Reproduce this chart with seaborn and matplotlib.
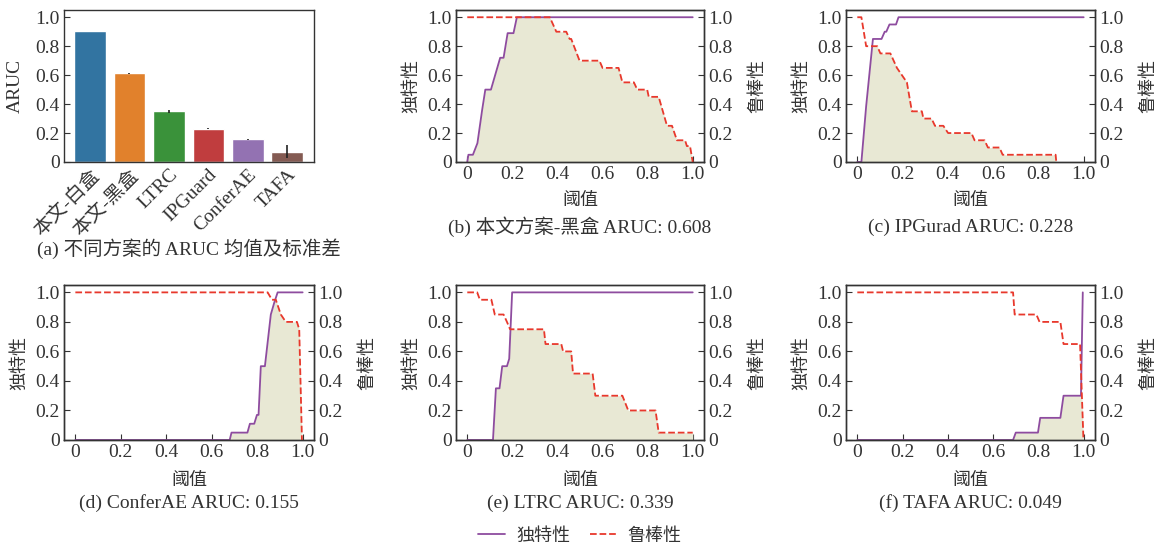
import numpy as np
import matplotlib
matplotlib.use("Agg")
import matplotlib.pyplot as plt
from matplotlib.lines import Line2D
from matplotlib.ticker import FuncFormatter
import seaborn as sns

# ---- (a) ARUC mean / std per scheme
SCHEMES   = ["本文-白盒", "本文-黑盒", "LTRC", "IPGuard", "ConferAE", "TAFA"]
ARUC_MEAN = [0.905, 0.613, 0.350, 0.229, 0.157, 0.070]
ARUC_STD  = [0.003, 0.003, 0.010, 0.003, 0.003, 0.045]

# ---- (b) 本文方案-黑盒
B_UX = [0, 0.005, 0.025, 0.045, 0.066, 0.08, 0.105, 0.146, 0.161, 0.179, 0.205, 0.22, 1.0]
B_U  = [0, 0.05, 0.05, 0.13, 0.36, 0.50, 0.50, 0.72, 0.72, 0.89, 0.89, 1.0, 1.0]
B_RX = [0, 0.366, 0.395, 0.439, 0.454, 0.461, 0.498, 0.586, 0.600, 0.671, 0.688, 0.739,
        0.754, 0.798, 0.805, 0.849, 0.886, 0.908, 0.930, 0.966, 0.974, 0.988, 1.0]
B_R  = [1.0, 1.0, 0.90, 0.90, 0.85, 0.85, 0.70, 0.70, 0.65, 0.65, 0.55, 0.55,
        0.50, 0.50, 0.45, 0.45, 0.25, 0.25, 0.15, 0.15, 0.11, 0.11, 0]

# ---- (c) IPGurad
C_UX = [0, 0.018, 0.039, 0.069, 0.107, 0.121, 0.128, 0.142, 0.171, 0.182, 1.0]
C_U  = [0, 0, 0.385, 0.85, 0.85, 0.90, 0.90, 0.95, 0.95, 1.0, 1.0]
C_RX = [0, 0.018, 0.039, 0.088, 0.102, 0.146, 0.175, 0.197, 0.219, 0.241, 0.285, 0.292,
        0.328, 0.343, 0.380, 0.401, 0.504, 0.518, 0.562, 0.577, 0.628, 0.642, 0.876, 0.879]
C_R  = [1.0, 1.0, 0.80, 0.80, 0.75, 0.75, 0.65, 0.60, 0.55, 0.35, 0.35, 0.30,
        0.30, 0.25, 0.25, 0.20, 0.20, 0.15, 0.15, 0.10, 0.10, 0.05, 0.05, 0]

# ---- (d) ConferAE
D_UX = [0, 0.679, 0.687, 0.757, 0.768, 0.787, 0.799, 0.806, 0.816, 0.834, 0.86, 0.875, 0.89, 1.0]
D_U  = [0, 0, 0.05, 0.05, 0.11, 0.11, 0.17, 0.17, 0.50, 0.50, 0.85, 0.93, 1.0, 1.0]
D_RX = [0, 0.846, 0.865, 0.882, 0.904, 0.926, 0.975, 0.985, 0.997]
D_R  = [1.0, 1.0, 0.95, 0.95, 0.85, 0.80, 0.80, 0.75, 0]

# ---- (e) LTRC
E_UX = [0, 0.114, 0.127, 0.143, 0.155, 0.176, 0.186, 0.199, 1.0]
E_U  = [0, 0, 0.35, 0.35, 0.50, 0.50, 0.55, 1.0, 1.0]
E_RX = [0, 0.044, 0.056, 0.107, 0.122, 0.161, 0.176, 0.19, 0.34, 0.347, 0.417, 0.425,
        0.461, 0.469, 0.556, 0.568, 0.688, 0.714, 0.835, 0.849, 1.0]
E_R  = [1.0, 1.0, 0.95, 0.95, 0.85, 0.85, 0.80, 0.75, 0.75, 0.65, 0.65, 0.60,
        0.60, 0.45, 0.45, 0.30, 0.30, 0.20, 0.20, 0.05, 0.05]

# ---- (f) TAFA
F_UX = [0, 0.688, 0.70, 0.798, 0.808, 0.897, 0.911, 0.988, 0.996]
F_U  = [0, 0, 0.05, 0.05, 0.15, 0.15, 0.30, 0.30, 1.0]
F_RX = [0, 0.688, 0.695, 0.791, 0.805, 0.897, 0.911, 0.984, 0.999]
F_R  = [1.0, 1.0, 0.85, 0.85, 0.80, 0.80, 0.65, 0.65, 0]

PURPLE = "#8e4c9f"
RED    = "#e8382c"
FILL   = "#e8e8d4"
TXT    = "#333333"

sns.set_style("ticks")
plt.rcParams["font.family"] = ["Liberation Serif", "Noto Sans CJK SC"]
plt.rcParams.update({
    "font.size": 14,
    "text.color": TXT, "axes.labelcolor": TXT,
    "xtick.color": TXT, "ytick.color": TXT,
    "axes.edgecolor": TXT, "axes.linewidth": 1.0,
    "xtick.major.pad": 3, "ytick.major.pad": 3,
})

W, H = 1158, 549
fig = plt.figure(figsize=(W / 100, H / 100), dpi=100)


def box(l, t, r, b):
    return [l / W, 1 - b / H, (r - l) / W, (b - t) / H]


fmt = FuncFormatter(lambda v, _: "0" if abs(v) < 1e-9 else f"{v:.1f}")
TICKS = [0, 0.2, 0.4, 0.6, 0.8, 1.0]
LAB = 13

# ---- panel (a)
ax = fig.add_axes(box(64, 10, 314, 162))
sns.barplot(x=SCHEMES, y=ARUC_MEAN, hue=SCHEMES, palette="tab10",
            saturation=0.75, legend=False, ax=ax, width=0.8)
ax.errorbar(range(len(SCHEMES)), ARUC_MEAN, yerr=ARUC_STD, fmt="none",
            ecolor="#222222", elinewidth=1.2)
ax.set_xlim(-0.66, 5.68)
ax.set_ylim(0, 1.05)
ax.set_yticks(TICKS)
ax.yaxis.set_major_formatter(fmt)
ax.set_ylabel("ARUC", fontsize=14)
ax.yaxis.set_label_coords(-40 / 250, 0.5)
ax.tick_params(direction="in", length=4)
ax.set_xticks(range(len(SCHEMES)))
ax.set_xticklabels(SCHEMES, rotation=45, ha="right", rotation_mode="anchor")
fig.text(189 / W, 1 - 249 / H, "(a) 不同方案的 ARUC 均值及标准差", ha="center", va="center")

# ---- panels (b)-(f)
panels = [
    ("(b) 本文方案-黑盒 ARUC: 0.608", B_UX, B_U, B_RX, B_R, (456, 10, 704, 162), 200, 227),
    ("(c) IPGurad ARUC: 0.228", C_UX, C_U, C_RX, C_R, (846, 10, 1095, 162), 200, 227),
    ("(d) ConferAE ARUC: 0.155", D_UX, D_U, D_RX, D_R, (64, 285, 314, 440), 480, 503),
    ("(e) LTRC ARUC: 0.339", E_UX, E_U, E_RX, E_R, (456, 285, 704, 440), 480, 503),
    ("(f) TAFA ARUC: 0.049", F_UX, F_U, F_RX, F_R, (846, 285, 1095, 440), 480, 503),
]

grid = np.linspace(0, 1, 2001)
for title, ux, u, rx, r, pos, xl_y, cap_y in panels:
    ax = fig.add_axes(box(*pos))
    shade = np.minimum(np.interp(grid, ux, u), np.interp(grid, rx, r))
    ax.fill_between(grid, 0, shade, color=FILL, lw=0)
    sns.lineplot(x=ux, y=u, color=PURPLE, lw=1.3, estimator=None, sort=False, ax=ax)
    ax2 = ax.twinx()
    sns.lineplot(x=rx, y=r, color=RED, lw=1.3, ls="--", estimator=None, sort=False, ax=ax2)
    for a in (ax, ax2):
        a.set_xlim(-0.05, 1.05)
        a.set_ylim(0, 1.05)
        a.set_yticks(TICKS)
        a.yaxis.set_major_formatter(fmt)
        a.tick_params(direction="in", length=4)
    ax.set_xticks(TICKS)
    ax.xaxis.set_major_formatter(fmt)
    w = pos[2] - pos[0]
    ax.set_ylabel("独特性", fontsize=LAB)
    ax.yaxis.set_label_coords(-36 / w, 0.5)
    ax2.set_ylabel("鲁棒性", fontsize=LAB)
    ax2.yaxis.set_label_coords(1 + 45 / w, 0.5)
    ax.set_xlabel("")
    cx = (pos[0] + pos[2]) / 2
    fig.text(cx / W, 1 - xl_y / H, "阈值", ha="center", va="center", fontsize=LAB)
    fig.text(cx / W, 1 - cap_y / H, title, ha="center", va="center")

handles = [Line2D([], [], color=PURPLE, lw=1.3),
           Line2D([], [], color=RED, lw=1.3, ls="--")]
fig.legend(handles, ["独特性", "鲁棒性"], loc="center", ncol=2, frameon=False,
           fontsize=LAB, bbox_to_anchor=(580 / W, 1 - 536 / H),
           handlelength=1.5, handletextpad=0.6, columnspacing=1.1)

fig.savefig("out.png", dpi=100)
